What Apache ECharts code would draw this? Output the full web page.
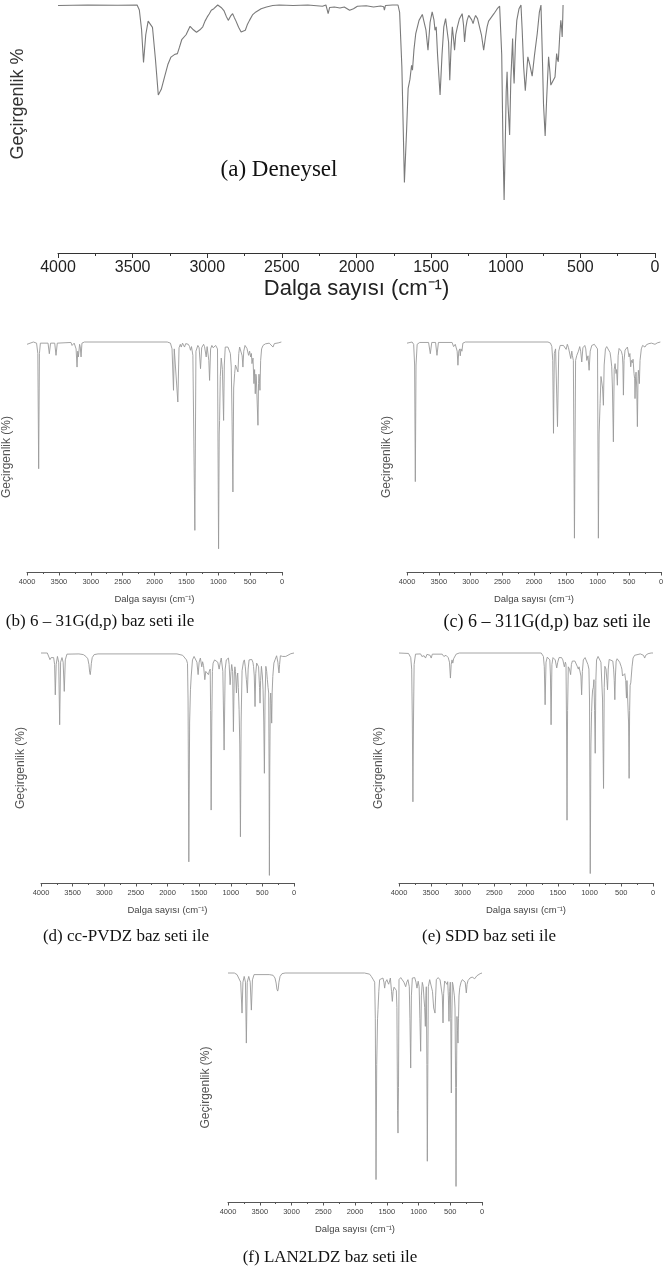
<!DOCTYPE html>
<html>
<head>
<meta charset="utf-8">
<script src="https://cdn.jsdelivr.net/npm/echarts@6/dist/echarts.min.js"></script>
<style>
html,body{margin:0;padding:0;background:#fff;}
#chart{width:670px;height:1280px;}
</style>
</head>
<body>
<div id="chart"></div>
<script>
// ---- Data: [wavenumber (cm-1), transmittance (relative %)] ----
const tickValues = [4000, 3500, 3000, 2500, 2000, 1500, 1000, 500, 0];
const tickLabels = ['4000', '3500', '3000', '2500', '2000', '1500', '1000', '500', '0'];

const spectrumA = [[4000,99.8],[3800,100],[3600,99.9],[3470,100],[3455,98],[3440,90],[3427,76.8],[3412,88],[3396,93.5],[3384,94],[3367,91],[3347,78],[3328,63.7],[3308,66],[3286,71],[3264,76],[3243,79],[3220,80],[3200,80.4],[3186,83],[3171,86],[3142,88],[3115,91.4],[3093,90],[3072,89],[3049,90],[3030,91.2],[3015,93.5],[3000,95.2],[2986,96.5],[2973,97.9],[2956,98.5],[2930,100],[2907,99],[2887,97.6],[2873,95.5],[2859,93.8],[2844,95.5],[2830,96.5],[2819,95],[2808,93.6],[2790,91],[2773,89.1],[2761,89.5],[2745,89.8],[2732,92],[2717,93.8],[2697,96],[2674,97.2],[2639,98.5],[2603,99.2],[2561,99.8],[2518,100],[2424,99.8],[2326,100],[2228,99.5],[2205,100],[2194,97.5],[2190,96.5],[2180,99],[2148,99.2],[2111,98.8],[2082,99.2],[2046,97.9],[2020,98.5],[1994,99.5],[1935,99.7],[1886,99.2],[1838,99.6],[1818,99.3],[1813,97.9],[1806,99.8],[1759,100],[1722,100],[1711,97],[1696,75],[1679,28.4],[1664,50],[1654,66.4],[1642,70],[1631,75.7],[1625,73.7],[1615,82],[1603,88.5],[1581,93.8],[1559,96.2],[1546,96.5],[1535,90],[1521,81.8],[1507,93],[1493,97.2],[1481,94],[1474,89.8],[1466,91.2],[1457,80],[1440,63.7],[1427,80],[1415,91.2],[1403,94.5],[1392,95.2],[1383,85],[1375,69.7],[1367,82],[1358,91.2],[1349,86],[1343,81.8],[1335,88],[1324,91.2],[1310,94.5],[1292,96.5],[1283,92],[1276,85.1],[1267,91],[1259,93.8],[1248,95.8],[1236,96.2],[1228,94],[1219,92.5],[1210,94.5],[1202,95.8],[1189,94.5],[1176,93.8],[1163,88],[1148,81.8],[1136,87],[1125,91.2],[1115,93.5],[1103,94.5],[1079,96.5],[1057,98.5],[1041,99.5],[1035,99.9],[1027,80],[1019,45],[1011,21.4],[1003,45],[997,65],[991,73.1],[985,60],[974,47.6],[966,70],[954,86.5],[949,75],[944,68.4],[935,85],[926,93.8],[911,98.5],[898,100],[890,90],[880,75],[869,65.4],[861,72],[852,79.1],[839,76],[823,71.3],[807,80],[789,88.5],[775,97],[764,100],[755,80],[747,60],[736,47.2],[726,62],[713,79.1],[704,73],[698,67.7],[685,68.5],[670,71],[659,80.4],[653,78],[648,77.1],[638,88],[631,93.8],[626,91],[622,87.1],[618,95],[616,100]];

const spectrumB = [[4000,99],[3980,99.5],[3900,100],[3850,99.5],[3830,95],[3817,44.9],[3805,95],[3790,99.5],[3670,99.5],[3650,94.9],[3630,99.5],[3565,99.5],[3545,94.2],[3525,99.5],[3310,99.8],[3293,98.5],[3260,99.5],[3230,97],[3215,89.1],[3204,96],[3194,93.5],[3175,99],[3165,98],[3152,93.5],[3138,99.5],[3100,100],[1800,100],[1750,99.5],[1725,97],[1702,79],[1690,97],[1660,97],[1634,73.9],[1615,97.5],[1595,99],[1581,97.8],[1560,99.5],[1529,97.8],[1510,99.3],[1492,98.5],[1470,99],[1450,98],[1435,96.4],[1420,98],[1398,94.2],[1385,95],[1367,18.1],[1350,96],[1320,98.5],[1300,97.5],[1278,88.4],[1260,97.5],[1230,99],[1215,98],[1189,93.5],[1175,98],[1162,98],[1148,92],[1136,83.3],[1120,97],[1100,98.5],[1080,97.5],[1058,97.8],[1040,98.5],[1031,97.8],[1012,97],[995,10.1],[985,60],[979,65.9],[968,85],[953,93],[935,88],[916,65.9],[905,90],[890,97.8],[870,98.5],[848,97.8],[825,97],[810,95],[796,89.1],[785,70],[770,34.8],[758,80],[743,86.2],[730,90],[717,90.6],[705,90],[691,87],[678,95],[665,97.8],[640,97],[625,94],[613,89.1],[600,96],[580,98.5],[560,98],[550,97.2],[535,96.5],[524,94.2],[508,96],[492,93.5],[480,95],[471,90.6],[455,93],[440,81.9],[430,88],[419,77.5],[410,86],[403,84.8],[390,85],[377,63.8],[368,82],[361,86],[352,83],[346,79],[335,92],[320,97],[298,98.5],[260,99.2],[200,99.5],[170,99],[141,97.8],[120,99.3],[60,99.6],[10,100]];

const spectrumC = [[4000,99.5],[3920,100],[3895,99],[3880,90],[3869,39.3],[3858,90],[3840,99],[3800,99.8],[3660,99.8],[3633,94.9],[3610,99.8],[3550,99.8],[3528,94.2],[3505,99.8],[3290,99.8],[3266,98],[3240,99],[3210,96],[3198,89.9],[3185,96],[3170,97],[3161,94],[3150,97],[3135,96],[3120,99.5],[3080,100],[1780,100],[1740,99.5],[1719,98],[1705,92],[1693,60.3],[1680,95],[1660,97],[1630,63.2],[1610,96],[1588,98.5],[1565,99.3],[1536,98.5],[1515,99.3],[1494,96.8],[1475,99],[1457,97.5],[1440,98.3],[1421,92.8],[1405,96],[1395,94],[1380,92],[1363,14.7],[1345,92],[1326,94.2],[1300,96],[1280,98],[1265,96],[1248,91.3],[1230,97.5],[1200,98.5],[1185,97],[1169,92],[1150,94],[1132,87.7],[1115,96],[1090,98.5],[1050,99],[1020,98.5],[1000,97],[986,14.7],[975,60],[959,73.3],[945,85],[933,85.2],[920,80],[907,72.5],[895,90],[875,97],[855,98],[830,97.5],[802,95.4],[790,93],[776,89.2],[765,80],[750,56.6],[737,88],[723,90.6],[708,86.3],[700,88],[687,81.2],[675,94],[660,97.2],[640,97.5],[625,96],[608,94.2],[600,90],[592,76.9],[582,92],[566,96.5],[545,97],[529,97.8],[515,97],[503,93.5],[490,95],[477,89.2],[465,92],[450,91],[440,92.5],[425,86.3],[415,84],[409,75.4],[400,85],[393,86.9],[382,80],[372,63.2],[362,84],[356,87.7],[348,85],[341,81.9],[330,92],[310,97],[290,98.5],[270,98.8],[252,97.8],[230,98.8],[190,99.3],[150,99.5],[120,99],[94,99],[60,99.6],[10,100]];

const spectrumD = [[4000,100],[3900,100],[3870,99.3],[3858,97.1],[3840,98],[3800,98],[3785,95],[3774,81.8],[3760,95],[3740,98.5],[3720,96],[3705,68.8],[3690,96],[3668,98],[3650,96],[3632,83.3],[3616,97],[3590,99.5],[3400,99.6],[3330,99.3],[3290,98.5],[3260,97.5],[3242,95],[3230,91.5],[3221,90.6],[3213,92.5],[3204,95.5],[3190,98],[3160,99.3],[3100,99.6],[1850,99.6],[1760,99],[1737,98.5],[1700,97],[1684,95.5],[1675,80],[1663,9.2],[1650,70],[1637,84],[1625,90],[1605,97],[1580,98.5],[1553,97.8],[1535,96],[1516,90.6],[1500,96],[1480,97.8],[1458,94],[1445,96.2],[1430,94.5],[1410,88.4],[1395,92],[1384,92.7],[1370,92],[1353,90.6],[1340,92],[1325,93],[1318,75],[1310,31.7],[1300,70],[1290,92],[1279,95.6],[1255,97],[1226,97.8],[1205,96],[1184,93],[1165,96],[1150,97.8],[1125,92],[1105,57.8],[1088,93],[1070,97],[1037,97.8],[1025,95],[1010,86.2],[995,92],[985,95],[970,92],[958,65.8],[945,90],[935,94],[925,92],[910,82.6],[898,90],[890,91.3],[880,85],[868,75.3],[857,60],[847,20.1],[836,70],[821,92.3],[800,96],[785,97],[770,94],[753,88.4],[745,88],[737,82.6],[725,93],[710,97],[690,97.2],[668,97.2],[650,96],[640,94.2],[628,90],[616,76.7],[605,91],[590,95.6],[575,96.2],[560,94],[545,85],[537,78.2],[528,88],[515,94.2],[500,90],[489,84],[478,70],[468,47.7],[458,80],[445,94.2],[432,92],[421,88.4],[410,85],[400,82.6],[394,50],[389,3.3],[383,50],[375,80],[368,82.6],[360,78],[353,69.5],[345,83],[335,89.8],[318,95.6],[300,97],[275,98.8],[255,96],[245,93],[237,91.3],[228,95],[215,98.8],[180,98.5],[158,98],[130,98.5],[100,99.3],[50,99.7],[0,100]];

const spectrumE = [[4000,100],[3850,99.8],[3815,98],[3800,93],[3790,70],[3781,35.3],[3772,70],[3762,95],[3740,99.5],[3660,99.6],[3640,98.5],[3624,97.8],[3605,98.8],[3582,97.8],[3560,99.4],[3510,99],[3493,97.8],[3475,99.5],[3320,99.5],[3294,98.5],[3260,99],[3225,98],[3205,96],[3190,89.1],[3178,95],[3165,97],[3153,95.6],[3140,97.5],[3130,98],[3100,99.5],[3050,100],[1760,100],[1740,99.6],[1726,98.5],[1712,94],[1699,77.5],[1685,96],[1665,98.2],[1645,99],[1625,97],[1615,90],[1605,68.8],[1592,95],[1575,98],[1540,97],[1516,93.5],[1500,96],[1480,98],[1440,98],[1420,97],[1396,94],[1380,96],[1370,95],[1362,70],[1354,27.3],[1345,75],[1334,94],[1315,93],[1297,90.6],[1285,95],[1270,96.5],[1230,96.5],[1210,96],[1190,94],[1176,93],[1165,94],[1150,94.2],[1135,90],[1124,81.8],[1112,92],[1097,97],[1070,98],[1045,98],[1025,95],[1009,93],[1000,80],[988,4.1],[978,60],[967,74.6],[960,80],[951,84],[940,85],[930,88.4],[920,75],[910,56.4],[900,88],[889,97],[865,98.5],[840,98],[820,96],[810,95.9],[795,80],[779,41.1],[768,85],[758,94.2],[740,93],[725,88],[716,84],[705,93],[690,97.2],[660,97.2],[633,96.5],[620,93],[610,88],[601,79.7],[592,90],[580,96.5],[565,97.5],[543,97.8],[525,96],[502,94.2],[490,93],[480,90],[471,89.5],[460,90.5],[445,91],[430,88],[418,80.4],[410,88],[397,88.4],[385,70],[376,45.5],[368,75],[360,86],[350,87],[345,87.6],[330,94],[314,97.8],[290,99],[262,99.7],[200,99.6],[150,99],[131,97.8],[115,99],[78,99.7],[30,100],[0,100]];

const spectrumF = [[4000,100],[3900,100],[3858,99.3],[3830,98.5],[3800,96],[3779,82.5],[3765,96],[3745,98.5],[3725,96],[3711,69.4],[3697,96],[3673,98.5],[3650,96],[3632,83.8],[3615,97],[3590,99.3],[3350,99.3],[3290,99],[3260,97.8],[3242,95.6],[3230,93],[3218,92.1],[3209,93],[3198,96],[3180,98.5],[3150,99.7],[3100,100],[1850,100],[1770,99.5],[1743,98.5],[1710,97],[1690,96],[1680,80],[1669,9.8],[1658,60],[1645,80],[1638,84],[1625,92],[1612,97.1],[1560,97.8],[1545,96],[1533,93.4],[1520,96],[1497,97.1],[1485,96],[1470,95.1],[1455,96.5],[1443,97.8],[1425,92],[1412,87.6],[1400,92],[1385,93.8],[1365,93.5],[1349,92.4],[1340,85],[1330,40],[1323,30.1],[1315,50],[1307,97.1],[1280,98],[1255,97.8],[1230,96],[1202,94],[1185,96],[1166,97.1],[1145,94],[1135,80],[1123,58.5],[1112,90],[1097,97.8],[1077,97.3],[1060,98],[1040,96],[1024,93.4],[1005,96.4],[990,94],[978,80],[966,65.8],[955,90],[940,95.9],[925,94],[913,88.6],[903,85],[892,76.7],[883,90],[877,94],[868,60],[861,17.8],[853,60],[845,94],[824,97.1],[800,96.5],[780,92],[761,84.7],[750,85],[740,82.5],[730,90],[719,97.1],[690,98],[677,97.8],[660,97],[640,96.2],[625,90],[614,78.2],[604,91],[588,96.5],[575,97.1],[560,96.5],[550,95],[540,96.2],[530,90],[520,78.9],[510,92],[499,96],[492,80],[483,47.6],[475,80],[467,96],[457,95],[446,94.6],[435,90],[425,84.7],[415,50],[409,6.8],[402,50],[394,81],[386,75],[378,69.4],[370,80],[362,90],[350,93.7],[330,96],[310,97.1],[285,97.3],[265,96],[247,91.3],[235,95],[220,96.7],[190,97.8],[155,98.2],[115,97.5],[80,98.8],[30,99.7],[0,100]];

const captions = ['(b) 6 – 31G(d,p) baz seti ile', '(c) 6 – 311G(d,p) baz seti ile', '(d) cc-PVDZ baz seti ile', '(e) SDD baz seti ile', '(f) LAN2LDZ baz seti ile'];
const labelA = '(a) Deneysel';
const xName = 'Dalga sayısı (cm⁻¹)';
const yNameA = 'Geçirgenlik %';
const yNameSmall = 'Geçirgenlik (%)';

// ---- Layout ----
const panels = [
  {data: spectrumA, left: 58, width: 597, top: 5, height: 248, big: true},
  {data: spectrumB, left: 27, width: 255, top: 342, height: 230},
  {data: spectrumC, left: 407, width: 254, top: 342, height: 230},
  {data: spectrumD, left: 41, width: 253, top: 653, height: 230},
  {data: spectrumE, left: 399, width: 254, top: 653, height: 230},
  {data: spectrumF, left: 228, width: 254, top: 973, height: 229}
];

const SANS = '"Liberation Sans", Arial, sans-serif';
const SERIF = '"Liberation Serif", "Times New Roman", serif';

const grid = [], xAxis = [], yAxis = [], series = [];
panels.forEach((p, i) => {
  grid.push({left: p.left, top: p.top, width: p.width, height: p.height, containLabel: false});
  xAxis.push({
    gridIndex: i, type: 'value', min: 0, max: 4000, interval: 500, inverse: true,
    name: xName, nameLocation: 'middle', nameGap: p.big ? 25 : 22,
    nameTextStyle: {fontFamily: SANS, fontSize: p.big ? 22 : 9.5, color: p.big ? '#222' : '#444'},
    axisLine: {show: true, onZero: false, lineStyle: {color: p.big ? '#333' : '#555', width: 1}},
    axisTick: {show: true, inside: false, length: p.big ? 5 : 3.5, lineStyle: {color: p.big ? '#333' : '#555'}},
    minorTick: {show: true, splitNumber: 2, length: p.big ? 3 : 2, lineStyle: {color: p.big ? '#333' : '#555'}},
    splitLine: {show: false},
    axisLabel: {
      margin: p.big ? 7 : 6, fontFamily: SANS, fontSize: p.big ? 16 : 7.5, color: p.big ? '#222' : '#444',
      formatter: v => { const k = tickValues.indexOf(v); return k >= 0 ? tickLabels[k] : ''; }
    }
  });
  yAxis.push({
    gridIndex: i, type: 'value', min: 0, max: 100,
    name: p.big ? '' : yNameSmall, nameLocation: 'middle', nameRotate: 90,
    nameGap: i === 5 ? 16 : 14,
    nameTextStyle: {fontFamily: SANS, fontSize: 12, color: '#555'},
    axisLine: {show: false}, axisTick: {show: false}, axisLabel: {show: false}, splitLine: {show: false}
  });
  series.push({
    type: 'line', xAxisIndex: i, yAxisIndex: i, data: p.data,
    showSymbol: false, symbol: 'none', clip: false, animation: false,
    lineStyle: {color: p.big ? '#7a7a7a' : '#9a9a9a', width: p.big ? 1.1 : 0.9}
  });
});

const cap = (txt, x, y, fs) => ({
  type: 'text', x: x, y: y,
  style: {text: txt, fontFamily: SERIF, fontSize: fs || 17, fill: '#111', textAlign: 'center', textVerticalAlign: 'middle'}
});

const graphic = [
  {type: 'text', x: 18, y: 104, rotation: Math.PI / 2,
   style: {text: yNameA, fontFamily: SANS, fontSize: 18, fill: '#333', textAlign: 'center', textVerticalAlign: 'middle'}},
  {type: 'text', x: 279, y: 170,
   style: {text: labelA, fontFamily: SERIF, fontSize: 23, fill: '#111', textAlign: 'center', textVerticalAlign: 'middle'}},
  cap(captions[0], 100, 622),
  cap(captions[1], 547, 622, 18),
  cap(captions[2], 126, 937),
  cap(captions[3], 489, 937),
  cap(captions[4], 330, 1258)
];

const chart = echarts.init(document.getElementById('chart'), null, {renderer: 'canvas'});
chart.setOption({
  backgroundColor: '#ffffff',
  animation: false,
  grid, xAxis, yAxis, series, graphic
});
</script>
</body>
</html>
